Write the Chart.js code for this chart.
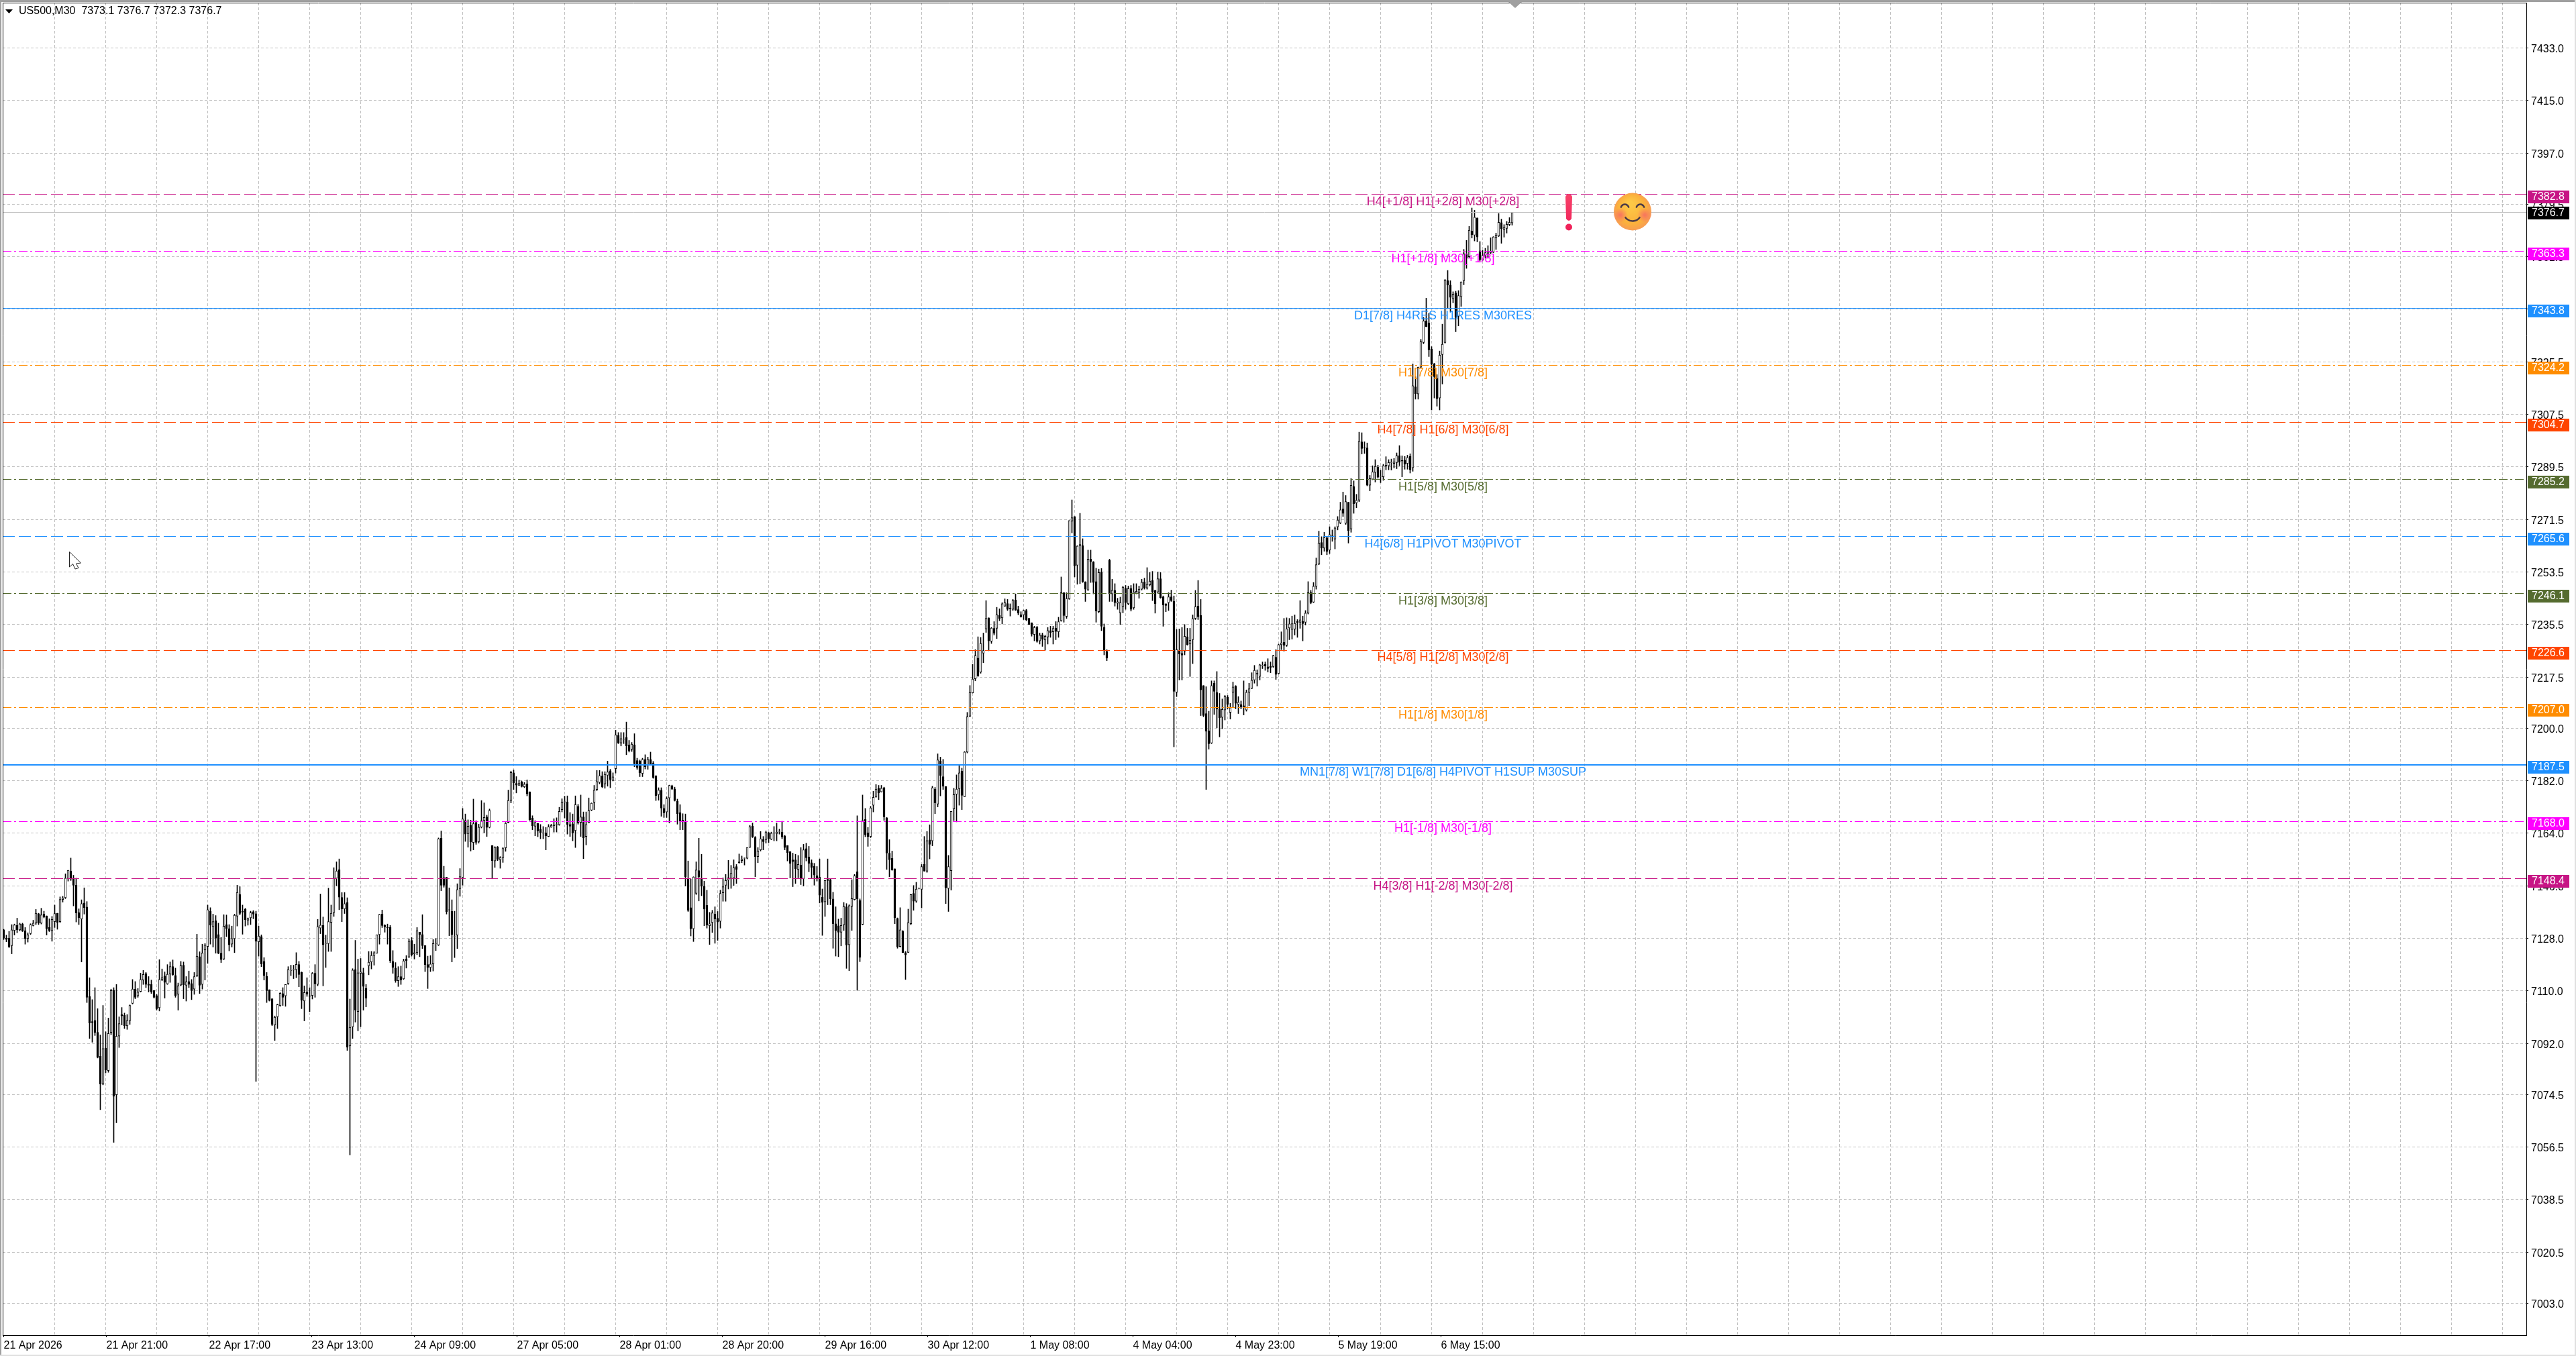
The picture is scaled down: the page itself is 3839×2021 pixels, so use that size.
<!DOCTYPE html>
<html lang="en">
<head>
<meta charset="UTF-8" />
<title>US500,M30</title>
<script src="https://cdn.jsdelivr.net/npm/chart.js"></script>
<style>
  html, body { margin: 0; padding: 0; background: #fff; overflow: hidden; }
  canvas { display: block; }
</style>
</head>
<body>
<canvas id="chart" width="3839" height="2021"></canvas>
<script>
const opens = [
7130.9,7128.1,7128.1,7125.5,7130.7,7132.4,7130.9,7132.9,7130.6,7127.9,
7129.6,7132.4,7133.2,7136.4,7133.2,7136.3,7135.7,7131.7,7130.6,7133.7,
7136.6,7133.7,7141.3,7141.9,7148.4,7151.1,7148.6,7146.2,7136.8,7134.6,
7140.1,7138.7,7108.1,7099.5,7099.9,7095.8,7087.6,7078.1,7090.4,7082.7,
7095.8,7110.2,7074.4,7094.5,7101.9,7101.6,7098.0,7099.8,7105.7,7110.6,
7108.3,7109.8,7113.7,7115.9,7112.3,7112.2,7110.1,7108.4,7104.2,7113.9,
7115.1,7112.4,7115.7,7118.3,7115.3,7108.8,7112.0,7118.8,7111.9,7113.2,
7112.5,7110.6,7115.1,7121.7,7112.2,7124.0,7125.2,7137.3,7132.0,7134.0,
7129.3,7122.9,7120.9,7132.7,7131.3,7126.0,7127.9,7135.6,7143.0,7137.3,
7138.0,7134.2,7135.0,7137.1,7136.4,7126.8,7128.6,7120.1,7115.0,7110.4,
7107.3,7098.3,7101.1,7104.9,7109.1,7108.3,7112.5,7116.9,7117.1,7117.3,
7119.0,7116.3,7106.5,7109.6,7108.3,7108.4,7116.0,7112.2,7131.5,7132.4,
7126.2,7126.2,7133.5,7136.8,7148.6,7151.5,7142.0,7138.1,7140.3,7091.1,
7097.7,7117.3,7102.9,7116.0,7116.2,7110.8,7118.6,7119.9,7122.1,7122.9,
7129.3,7136.3,7132.4,7131.8,7131.7,7120.1,7117.8,7113.5,7114.9,7114.1,
7120.9,7121.6,7127.3,7122.7,7123.1,7130.1,7129.3,7125.5,7119.0,7118.0,
7119.2,7126.2,7125.7,7162.3,7148.8,7148.9,7137.8,7137.3,7128.5,7129.1,
7145.0,7148.8,7168.4,7163.9,7166.7,7160.8,7167.7,7161.1,7166.1,7168.4,
7169.6,7166.0,7159.8,7154.5,7159.3,7154.9,7155.6,7159.0,7167.7,7175.3,
7184.7,7181.1,7180.4,7181.6,7179.9,7180.9,7178.2,7169.2,7166.4,7167.4,
7165.4,7164.0,7164.1,7162.9,7166.1,7166.6,7166.8,7166.9,7172.1,7174.7,
7174.7,7167.0,7167.2,7164.9,7173.2,7167.7,7169.6,7162.9,7167.6,7171.9,
7174.6,7179.0,7181.4,7183.6,7180.9,7183.9,7185.4,7182.1,7186.1,7197.5,
7194.9,7196.1,7196.8,7194.3,7192.8,7194.3,7188.9,7188.8,7184.5,7189.3,
7187.4,7189.3,7188.0,7183.7,7177.2,7178.7,7172.5,7171.3,7176.1,7180.3,
7179.2,7175.0,7171.0,7168.5,7168.0,7148.3,7138.5,7131.3,7143.4,7151.2,
7148.3,7145.8,7139.3,7132.3,7133.4,7136.3,7134.9,7133.8,7143.6,7146.2,
7148.0,7148.5,7148.7,7152.6,7154.2,7154.6,7155.4,7155.4,7159.2,7166.5,
7162.5,7156.0,7158.3,7161.8,7161.8,7164.1,7162.0,7164.0,7163.9,7164.6,
7164.4,7163.1,7159.8,7157.7,7154.9,7154.9,7151.6,7153.1,7148.5,7158.7,
7155.9,7153.9,7152.7,7149.5,7149.0,7142.1,7140.5,7148.2,7148.1,7141.5,
7133.0,7132.3,7130.1,7132.6,7138.8,7125.8,7139.0,7141.3,7150.8,7140.9,
7132.8,7168.7,7164.1,7162.9,7173.6,7176.5,7179.4,7178.2,7179.6,7169.3,
7157.2,7155.4,7151.8,7134.8,7125.2,7130.4,7123.1,7123.2,7133.0,7143.4,
7140.7,7145.0,7144.8,7153.4,7151.0,7161.7,7161.4,7179.1,7174.0,7188.8,
7183.4,7180.0,7145.1,7151.2,7172.3,7177.4,7179.3,7185.3,7176.5,7191.8,
7204.1,7212.1,7216.9,7224.0,7219.2,7225.7,7234.0,7237.8,7229.8,7234.2,
7234.2,7238.6,7237.8,7241.8,7242.7,7241.2,7240.7,7243.9,7240.6,7238.9,
7238.8,7240.3,7237.6,7236.1,7232.1,7234.5,7229.9,7232.0,7230.2,7231.2,
7233.4,7233.0,7234.3,7233.0,7236.8,7246.4,7238.3,7244.3,7270.9,7272.5,
7255.8,7262.5,7262.5,7250.1,7247.3,7257.9,7256.9,7250.2,7239.9,7253.5,
7234.5,7226.3,7257.5,7246.0,7247.2,7242.8,7239.5,7241.7,7247.9,7242.6,
7247.8,7241.2,7246.3,7246.4,7247.6,7250.1,7248.0,7249.1,7250.6,7247.2,
7246.6,7251.2,7245.0,7242.6,7243.0,7245.0,7243.5,7212.3,7226.6,7225.6,
7226.4,7231.3,7228.8,7230.3,7237.6,7241.8,7238.6,7214.6,7205.0,7199.1,
7194.9,7215.4,7212.2,7206.6,7203.7,7206.2,7210.6,7205.4,7212.3,7214.4,
7208.1,7208.1,7207.7,7206.2,7212.3,7213.6,7216.5,7218.8,7217.7,7221.5,
7221.9,7221.0,7221.1,7221.1,7224.3,7218.7,7228.6,7229.4,7228.4,7234.3,
7233.8,7233.9,7236.6,7236.3,7236.6,7236.3,7239.4,7246.4,7243.2,7248.6,
7256.2,7263.6,7261.7,7265.2,7261.0,7265.9,7264.8,7269.0,7270.3,7275.1,
7270.2,7277.4,7268.2,7282.8,7277.2,7278.1,7298.1,7296.2,7296.0,7283.2,
7285.3,7287.6,7289.4,7286.2,7286.1,7290.1,7289.9,7291.0,7290.7,7291.0,
7293.3,7291.7,7291.8,7290.7,7293.1,7289.2,7316.9,7314.5,7323.7,7332.1,
7339.5,7338.8,7329.9,7324.8,7319.8,7313.1,7328.0,7332.1,7353.3,7351.8,
7347.1,7349.1,7341.1,7347.8,7353.3,7362.5,7361.5,7370.3,7368.9,7374.8,
7363.5,7360.4,7362.0,7362.7,7362.9,7363.1,7367.9,7368.6,7373.2,7370.9,
7371.2,7372.5,7373.1];
const highs = [
7131.1,7129.1,7130.4,7132.7,7132.9,7134.9,7133.2,7133.2,7131.7,7129.9,
7133.0,7134.2,7137.9,7136.6,7138.3,7137.3,7135.7,7134.7,7135.5,7139.4,
7136.6,7142.2,7142.4,7150.1,7151.3,7155.5,7149.6,7148.6,7138.1,7141.2,
7145.3,7140.6,7114.5,7107.0,7111.1,7103.9,7094.9,7105.0,7096.0,7100.7,
7110.6,7111.1,7112.2,7101.1,7104.3,7102.4,7101.9,7105.2,7113.9,7113.2,
7110.8,7116.1,7117.0,7116.3,7114.9,7113.7,7110.1,7108.8,7120.7,7117.5,
7116.5,7119.0,7119.9,7120.6,7117.8,7112.7,7120.1,7119.9,7114.9,7116.8,
7113.9,7116.3,7129.4,7123.4,7126.0,7126.2,7139.4,7138.5,7136.3,7135.8,
7133.2,7128.3,7136.1,7136.0,7132.7,7132.2,7136.3,7146.2,7145.7,7139.4,
7138.3,7135.0,7137.3,7137.5,7137.3,7132.2,7129.2,7121.4,7116.3,7110.4,
7107.3,7101.4,7105.5,7109.4,7111.1,7112.2,7118.3,7118.8,7118.8,7123.1,
7120.1,7116.5,7111.7,7114.5,7111.1,7116.3,7119.0,7134.5,7143.2,7135.3,
7129.1,7145.2,7139.4,7152.2,7154.2,7155.2,7143.7,7143.7,7141.9,7107.2,
7117.6,7127.3,7120.9,7121.1,7117.8,7112.2,7123.5,7123.5,7123.5,7129.2,
7136.3,7137.7,7132.7,7132.9,7132.4,7123.8,7119.7,7118.3,7118.5,7120.9,
7122.1,7127.8,7128.3,7126.0,7131.7,7130.1,7136.1,7125.5,7121.9,7122.1,
7127.6,7127.9,7162.4,7164.8,7152.7,7148.9,7145.3,7141.2,7137.3,7146.7,
7151.9,7172.5,7170.6,7168.6,7168.5,7175.7,7168.3,7167.1,7175.2,7174.4,
7170.2,7172.3,7159.8,7159.4,7159.5,7156.0,7159.1,7167.7,7178.8,7185.3,
7185.7,7183.4,7182.2,7181.9,7181.4,7182.3,7178.2,7170.0,7168.3,7167.4,
7167.0,7166.3,7166.0,7167.0,7167.1,7169.0,7169.3,7172.9,7175.8,7176.7,
7176.8,7171.1,7170.6,7176.8,7173.9,7177.1,7171.3,7171.3,7176.1,7174.4,
7180.4,7185.5,7185.5,7185.1,7185.1,7188.7,7185.9,7184.7,7199.3,7198.5,
7198.5,7198.5,7202.1,7195.8,7195.1,7198.1,7189.7,7189.1,7189.7,7190.9,
7190.1,7191.8,7188.6,7183.7,7179.6,7179.6,7173.8,7176.5,7180.5,7180.5,
7179.8,7175.7,7173.8,7170.7,7170.6,7154.5,7148.3,7149.1,7154.2,7162.3,
7156.8,7147.6,7144.5,7136.9,7137.6,7138.8,7137.2,7144.5,7148.7,7149.9,
7154.7,7153.0,7154.9,7153.3,7156.9,7156.2,7155.6,7159.1,7166.7,7167.5,
7162.9,7159.1,7164.6,7162.9,7164.8,7164.4,7164.4,7166.3,7167.5,7165.4,
7168.1,7163.3,7159.8,7157.7,7157.2,7156.8,7156.4,7159.1,7160.2,7160.6,
7159.5,7154.9,7153.7,7152.6,7155.2,7144.9,7147.8,7155.2,7148.3,7143.8,
7138.8,7134.6,7134.9,7140.3,7139.9,7139.5,7148.1,7149.9,7170.0,7141.5,
7177.1,7172.5,7166.0,7173.2,7178.4,7180.7,7180.4,7180.4,7179.8,7169.4,
7161.8,7157.9,7151.8,7135.0,7138.5,7130.7,7123.5,7138.0,7143.1,7146.1,
7147.2,7145.3,7153.3,7162.9,7164.6,7166.9,7180.1,7179.7,7191.2,7190.1,
7189.3,7180.0,7156.4,7171.5,7179.4,7184.0,7187.4,7186.3,7192.0,7205.4,
7214.6,7221.9,7226.9,7231.3,7231.1,7232.6,7243.7,7237.8,7234.5,7236.5,
7241.4,7240.9,7243.0,7244.3,7244.1,7242.6,7244.1,7246.0,7241.8,7239.9,
7240.5,7240.7,7237.6,7236.1,7234.9,7234.9,7232.6,7232.6,7231.9,7234.5,
7234.9,7234.9,7236.5,7238.0,7251.8,7246.4,7246.4,7271.1,7278.2,7272.5,
7262.5,7273.6,7264.9,7250.2,7261.0,7261.0,7257.1,7254.8,7254.5,7254.7,
7235.7,7226.9,7257.9,7251.0,7249.5,7244.5,7244.9,7248.6,7248.9,7248.7,
7248.9,7249.5,7249.5,7248.7,7251.0,7251.4,7255.0,7253.3,7253.7,7247.3,
7253.5,7253.3,7245.3,7242.6,7246.4,7247.3,7245.3,7233.8,7234.0,7234.5,
7235.5,7234.2,7234.2,7238.8,7247.2,7250.6,7244.1,7214.6,7214.2,7205.8,
7216.2,7216.2,7219.4,7211.9,7210.0,7211.2,7211.2,7208.5,7215.8,7214.6,
7210.8,7209.3,7216.2,7213.1,7215.4,7219.0,7221.5,7220.0,7221.9,7222.7,
7222.7,7223.8,7222.7,7225.0,7226.9,7228.8,7233.0,7237.6,7237.8,7237.6,
7238.4,7238.8,7237.2,7243.7,7238.4,7240.3,7250.2,7247.2,7249.9,7258.3,
7267.5,7265.6,7267.1,7265.6,7269.0,7267.9,7269.0,7272.5,7277.4,7280.9,
7279.7,7277.4,7285.5,7284.7,7280.1,7301.4,7301.2,7298.1,7297.7,7286.6,
7289.9,7292.0,7290.1,7288.4,7290.4,7293.0,7292.0,7292.2,7292.4,7294.3,
7296.8,7293.3,7293.1,7293.5,7294.0,7324.8,7320.4,7323.7,7333.2,7340.7,
7347.3,7342.1,7330.7,7325.0,7321.1,7329.2,7338.4,7353.7,7356.8,7353.3,
7349.5,7349.7,7349.9,7352.9,7364.0,7367.1,7371.9,7378.2,7377.4,7374.8,
7366.7,7363.7,7364.4,7365.3,7368.0,7368.4,7369.6,7376.3,7374.4,7372.5,
7373.6,7374.9,7376.7];
const lows = [
7127.6,7126.8,7124.8,7122.7,7129.1,7129.9,7130.5,7130.3,7126.0,7126.7,
7129.3,7132.2,7132.7,7132.7,7132.9,7135.0,7129.1,7130.3,7127.0,7131.7,
7131.1,7133.4,7140.4,7141.6,7147.6,7147.8,7139.1,7133.6,7132.7,7119.9,
7136.3,7106.0,7093.7,7092.4,7094.7,7087.0,7069.3,7077.8,7081.9,7082.1,
7095.0,7058.1,7064.8,7090.6,7098.3,7097.1,7096.8,7098.5,7105.5,7107.3,
7107.8,7109.6,7112.2,7111.1,7109.6,7109.1,7107.5,7103.4,7103.1,7113.5,
7107.5,7112.2,7112.9,7115.3,7107.8,7103.4,7111.7,7107.3,7106.5,7111.1,
7107.0,7108.8,7114.9,7109.1,7110.6,7113.7,7119.4,7126.0,7125.0,7122.9,
7122.7,7119.7,7120.7,7128.6,7123.7,7125.0,7123.1,7132.2,7136.0,7129.4,
7132.2,7132.5,7132.7,7134.7,7079.0,7121.9,7118.3,7113.7,7106.0,7106.5,
7098.1,7093.0,7097.1,7104.7,7105.0,7104.7,7112.2,7115.2,7114.2,7114.5,
7111.4,7103.9,7099.7,7108.1,7102.9,7107.2,7107.8,7111.7,7129.6,7111.7,
7118.0,7123.5,7123.5,7135.5,7146.0,7137.8,7133.7,7136.5,7089.6,7053.8,
7093.7,7099.3,7096.3,7097.7,7103.4,7104.5,7115.5,7117.5,7118.8,7122.9,
7126.0,7131.7,7130.1,7126.0,7119.7,7116.0,7112.9,7111.5,7112.2,7113.9,
7117.8,7121.4,7121.9,7120.9,7122.4,7121.7,7124.5,7116.6,7110.8,7116.6,
7116.8,7123.8,7125.5,7144.3,7145.5,7136.3,7128.9,7119.9,7121.4,7124.5,
7142.4,7146.2,7161.2,7159.2,7157.9,7158.3,7160.2,7160.6,7165.8,7164.1,
7162.9,7165.8,7148.4,7152.3,7154.6,7152.0,7154.0,7157.8,7167.5,7174.4,
7179.0,7177.8,7180.4,7179.8,7179.6,7176.8,7168.4,7165.2,7163.1,7162.8,
7162.1,7162.1,7158.3,7162.8,7166.0,7164.4,7164.4,7166.7,7171.3,7169.2,
7163.7,7162.9,7161.4,7159.1,7167.1,7162.9,7155.3,7160.0,7167.5,7171.7,
7172.1,7178.6,7180.9,7179.6,7179.4,7180.1,7179.6,7181.9,7184.6,7194.7,
7193.9,7194.7,7190.9,7191.8,7192.0,7186.8,7185.9,7183.4,7183.4,7186.0,
7185.9,7187.4,7182.8,7175.2,7175.3,7169.8,7169.4,7169.4,7167.5,7179.0,
7175.0,7167.1,7165.2,7165.2,7145.9,7137.2,7128.8,7126.9,7143.0,7140.8,
7142.6,7132.3,7131.5,7125.9,7130.0,7126.3,7127.3,7131.5,7140.7,7140.7,
7144.9,7145.1,7146.1,7146.8,7153.7,7153.9,7153.1,7155.2,7159.1,7162.5,
7149.1,7153.9,7157.9,7158.3,7160.6,7160.8,7161.8,7161.4,7161.4,7163.7,
7162.1,7158.3,7154.5,7148.7,7145.7,7146.8,7148.7,7146.4,7145.9,7154.5,
7150.8,7148.7,7146.2,7147.6,7140.1,7129.0,7135.5,7139.5,7139.5,7124.6,
7121.9,7121.7,7125.4,7130.7,7117.7,7116.9,7130.7,7141.1,7110.2,7120.0,
7132.6,7162.8,7159.5,7162.5,7171.3,7176.3,7175.5,7178.1,7168.4,7151.6,
7149.1,7151.3,7133.0,7124.6,7125.0,7123.1,7113.9,7123.1,7132.6,7137.6,
7140.3,7144.9,7138.4,7151.0,7150.6,7155.2,7159.7,7170.7,7173.0,7176.8,
7179.0,7139.9,7137.2,7144.5,7168.3,7167.9,7173.6,7172.1,7176.5,7191.5,
7203.9,7212.0,7216.2,7217.7,7218.8,7222.4,7232.8,7226.5,7229.0,7231.9,
7230.7,7236.8,7235.7,7241.7,7240.3,7238.4,7240.3,7240.3,7238.8,7238.0,
7237.2,7236.8,7235.5,7231.5,7229.9,7229.4,7228.8,7228.0,7226.7,7228.8,
7231.1,7228.8,7230.3,7231.1,7236.6,7236.3,7237.6,7244.1,7266.9,7251.8,
7249.3,7249.5,7249.9,7243.4,7247.2,7249.9,7246.0,7236.3,7239.5,7233.4,
7225.1,7223.1,7243.4,7243.4,7241.8,7240.7,7235.5,7239.5,7240.7,7242.2,
7240.1,7240.7,7246.0,7244.5,7247.3,7247.6,7247.6,7248.7,7243.7,7239.4,
7246.4,7244.5,7234.9,7239.9,7240.3,7243.4,7193.6,7210.8,7216.5,7216.5,
7225.1,7228.4,7217.7,7222.1,7237.2,7237.2,7204.3,7203.9,7179.0,7192.8,
7194.7,7204.7,7200.1,7197.0,7199.8,7202.8,7206.6,7203.1,7207.0,7206.6,
7205.0,7206.6,7204.5,7205.8,7207.7,7213.5,7215.4,7214.4,7216.5,7220.4,
7219.8,7219.2,7219.0,7220.8,7216.7,7218.5,7226.9,7226.4,7228.0,7230.3,
7230.5,7231.9,7231.1,7234.2,7229.9,7235.3,7239.1,7242.6,7243.0,7247.6,
7256.0,7259.4,7260.6,7259.4,7259.8,7264.0,7261.4,7267.9,7270.0,7272.5,
7269.8,7263.4,7267.1,7273.6,7275.5,7277.6,7293.9,7294.1,7283.0,7281.3,
7285.1,7284.3,7285.6,7284.1,7284.9,7288.5,7288.5,7288.4,7289.1,7288.9,
7289.9,7286.1,7288.7,7288.7,7287.4,7288.0,7312.7,7312.7,7323.4,7331.7,
7337.5,7327.3,7309.0,7313.1,7310.3,7309.0,7317.9,7331.9,7343.7,7342.7,
7345.7,7335.8,7337.8,7344.5,7351.9,7357.5,7361.2,7367.9,7366.9,7366.6,
7360.0,7360.2,7361.0,7361.0,7362.5,7362.9,7364.0,7368.4,7366.1,7368.2,
7369.6,7372.1,7372.3];
const closes = [
7128.1,7127.6,7125.2,7130.9,7132.6,7130.9,7132.9,7130.5,7127.9,7129.2,
7132.7,7133.2,7136.6,7133.2,7136.0,7135.3,7131.3,7130.6,7134.5,7136.5,
7133.5,7141.3,7141.8,7148.6,7151.3,7148.3,7146.2,7136.7,7135.0,7139.9,
7138.5,7107.8,7099.0,7099.1,7095.8,7087.3,7078.1,7090.2,7082.9,7095.4,
7110.1,7073.9,7094.5,7098.8,7101.4,7098.1,7099.8,7105.0,7110.6,7107.8,
7109.6,7113.9,7115.6,7112.2,7111.9,7109.6,7107.8,7103.9,7113.9,7114.5,
7112.9,7115.7,7118.3,7115.5,7108.4,7111.7,7118.6,7112.1,7113.1,7112.2,
7110.1,7114.9,7121.9,7111.9,7123.0,7125.7,7137.8,7132.5,7133.7,7128.1,
7122.9,7120.7,7132.2,7131.3,7125.8,7127.9,7135.9,7143.7,7136.5,7137.0,
7134.4,7134.7,7136.8,7136.3,7127.0,7128.8,7119.2,7115.2,7110.1,7106.7,
7098.5,7101.0,7105.3,7109.2,7107.8,7112.2,7117.3,7117.0,7117.3,7119.1,
7115.6,7106.8,7109.4,7108.8,7108.2,7116.0,7112.4,7132.0,7132.5,7125.8,
7126.3,7133.7,7136.6,7148.6,7151.1,7142.1,7138.1,7139.9,7090.7,7097.5,
7117.1,7103.4,7116.2,7116.5,7111.5,7107.5,7119.8,7122.1,7123.1,7129.2,
7136.2,7132.4,7131.9,7131.6,7120.4,7118.0,7113.5,7114.9,7113.7,7120.3,
7120.4,7127.0,7122.4,7123.1,7130.6,7129.3,7125.5,7119.0,7118.0,7119.2,
7126.2,7126.3,7162.1,7146.2,7146.2,7137.1,7137.7,7129.3,7128.6,7144.7,
7149.1,7168.9,7163.7,7166.4,7161.0,7167.3,7160.9,7166.1,7168.3,7169.4,
7166.0,7171.8,7154.6,7159.2,7155.0,7155.7,7158.8,7167.4,7175.2,7184.8,
7181.3,7180.5,7181.1,7180.0,7180.8,7177.5,7168.6,7166.5,7167.7,7164.8,
7164.2,7164.2,7163.1,7166.2,7166.7,7166.9,7167.0,7171.5,7174.7,7174.8,
7167.0,7166.4,7164.1,7173.8,7167.5,7169.6,7162.4,7167.0,7171.7,7174.3,
7178.8,7181.7,7183.7,7179.9,7184.2,7185.0,7182.4,7183.3,7197.7,7194.9,
7196.4,7196.2,7193.9,7192.2,7194.5,7187.8,7186.5,7184.7,7189.3,7186.8,
7189.3,7187.6,7183.1,7176.9,7178.8,7172.6,7171.0,7175.9,7180.4,7179.1,
7175.2,7170.7,7168.1,7167.9,7149.1,7137.6,7131.3,7149.0,7151.4,7149.1,
7145.9,7138.0,7132.5,7133.0,7136.7,7134.6,7133.6,7143.4,7145.7,7147.8,
7148.7,7150.3,7152.2,7151.6,7153.9,7155.1,7155.5,7159.1,7166.2,7162.8,
7156.0,7157.9,7162.1,7161.1,7164.3,7162.1,7164.0,7164.1,7164.4,7164.7,
7162.7,7159.1,7157.4,7153.7,7154.3,7151.8,7153.3,7148.5,7158.3,7155.6,
7153.7,7152.3,7149.7,7148.5,7142.8,7140.3,7147.8,7147.8,7141.5,7133.0,
7130.7,7130.1,7132.4,7138.9,7125.7,7139.2,7141.6,7149.4,7141.5,7121.5,
7168.4,7163.5,7162.9,7172.7,7176.3,7179.1,7177.8,7179.4,7169.6,7157.2,
7154.9,7151.4,7135.0,7125.1,7130.9,7123.1,7122.3,7133.4,7143.0,7140.7,
7144.9,7145.1,7152.6,7151.0,7161.5,7160.2,7179.6,7174.4,7189.1,7183.8,
7180.1,7145.3,7152.6,7171.5,7177.2,7179.1,7184.7,7177.0,7191.8,7203.9,
7212.2,7216.8,7224.8,7217.9,7229.0,7226.6,7237.6,7229.9,7234.3,7232.5,
7238.8,7237.6,7242.6,7243.0,7240.7,7240.9,7243.7,7240.4,7239.4,7238.1,
7240.3,7237.1,7235.5,7232.2,7234.5,7229.7,7231.9,7230.5,7231.5,7233.4,
7232.8,7234.2,7233.1,7236.5,7246.4,7238.6,7244.4,7271.1,7272.1,7255.6,
7262.4,7262.9,7250.1,7247.6,7257.9,7257.0,7249.9,7240.1,7253.3,7234.9,
7226.5,7224.0,7246.0,7247.3,7243.0,7243.3,7243.0,7248.3,7243.0,7247.8,
7240.7,7246.6,7246.9,7247.6,7250.0,7248.0,7249.3,7250.4,7246.6,7242.6,
7251.2,7244.7,7242.2,7242.0,7245.0,7243.7,7212.6,7226.9,7225.4,7225.0,
7231.5,7228.6,7230.1,7237.5,7241.6,7238.2,7213.1,7204.3,7198.9,7194.7,
7214.6,7212.6,7206.5,7203.5,7206.4,7210.8,7208.1,7207.0,7214.1,7208.5,
7208.9,7207.2,7207.0,7212.3,7213.5,7216.4,7219.8,7218.5,7221.7,7221.6,
7221.3,7220.4,7220.8,7224.8,7218.4,7228.6,7229.2,7228.4,7234.0,7235.7,
7235.8,7235.9,7236.2,7237.1,7235.8,7239.4,7246.4,7243.0,7248.6,7256.0,
7263.4,7261.7,7265.3,7260.6,7266.3,7265.6,7268.6,7271.3,7274.8,7273.6,
7277.6,7267.7,7283.2,7276.9,7278.1,7298.3,7295.8,7296.1,7283.2,7285.5,
7287.8,7289.7,7286.0,7286.3,7289.9,7289.7,7291.0,7291.1,7291.2,7293.3,
7291.1,7291.5,7290.4,7292.7,7288.5,7317.3,7314.6,7323.7,7332.4,7339.5,
7337.6,7329.6,7324.7,7320.4,7312.9,7327.8,7331.5,7353.5,7351.8,7347.6,
7348.7,7340.7,7348.2,7352.9,7362.5,7361.0,7370.6,7369.0,7375.0,7368.3,
7360.6,7362.0,7362.9,7363.3,7363.3,7368.3,7368.9,7373.3,7371.1,7371.5,
7372.6,7373.3,7376.7];

const priceTicks = [7433.0,7415.0,7397.0,7379.5,7361.5,7343.5,7325.5,7307.5,7289.5,7271.5,7253.5,7235.5,7217.5,7200.0,7182.0,7164.0,7146.0,7128.0,7110.0,7092.0,7074.5,7056.5,7038.5,7020.5,7003.0];
const timeTickBars = [0,38.25,76.5,114.75,153,191.25,229.5,267.75,306,344.25,382.5,420.75,459,497.25,535.5];
const timeTickLabels = ['21 Apr 2026','21 Apr 21:00','22 Apr 17:00','23 Apr 13:00','24 Apr 09:00','27 Apr 05:00','28 Apr 01:00','28 Apr 20:00','29 Apr 16:00','30 Apr 12:00','1 May 08:00','4 May 04:00','4 May 23:00','5 May 19:00','6 May 15:00'];

const levelValues = [7382.8,7363.3,7343.8,7324.2,7304.7,7285.2,7265.6,7246.1,7226.6,7207.0,7187.5,7168.0,7148.4];
const levelLabels = ['H4[+1/8] H1[+2/8] M30[+2/8]','H1[+1/8] M30[+1/8]','D1[7/8] H4RES H1RES M30RES','H1[7/8] M30[7/8]','H4[7/8] H1[6/8] M30[6/8]','H1[5/8] M30[5/8]','H4[6/8] H1PIVOT M30PIVOT','H1[3/8] M30[3/8]','H4[5/8] H1[2/8] M30[2/8]','H1[1/8] M30[1/8]','MN1[7/8] W1[7/8] D1[6/8] H4PIVOT H1SUP M30SUP','H1[-1/8] M30[-1/8]','H4[3/8] H1[-2/8] M30[-2/8]'];
const levelColors = ['#C71585','#FF00FF','#1E90FF','#FF8C00','#FF4500','#556B2F','#1E90FF','#556B2F','#FF4500','#FF8C00','#1E90FF','#FF00FF','#C71585'];
const levelStyles = ['dash','dashdot','solid','dashdot','dash','dashdot','dash','dashdot','dash','dashdot','thick','dashdot','dash'];
const lastPrice = 7376.7;
const headerText = 'US500,M30  7373.1 7376.7 7372.3 7376.7';

const X_MIN = -0.375, X_MAX = 939.875;
const Y_MIN = 6992.04, Y_MAX = 7448.53;
const LABEL_BAR = 536.25;
const FONT = '"Liberation Sans", Arial, sans-serif';

const dashes = { dash: [18, 6], dashdot: [13, 4, 3, 4], solid: [], thick: [] };

function levelDataset(value, color, style) {
  return {
    type: 'line',
    data: [{ x: X_MIN, y: value }, { x: X_MAX, y: value }],
    borderColor: color,
    borderWidth: style === 'thick' ? 2 : 1,
    borderDash: dashes[style],
    pointRadius: 0,
    order: 0
  };
}

// text and small icons that chart.js has no element for
const overlay = {
  id: 'overlay',
  // level lines land between pixel rows, snap them so they stay one pixel thick
  beforeDatasetDraw(chart, args) {
    if (args.meta.type !== 'line') return;
    const { ctx, scales } = chart;
    const p = scales.y.getPixelForValue(args.meta._dataset.data[0].y);
    const snapped = args.meta._dataset.borderWidth === 2 ? Math.round(p) : Math.floor(p) + 0.5;
    ctx.save();
    ctx.translate(0, snapped - p);
  },
  afterDatasetDraw(chart, args) {
    if (args.meta.type === 'line') chart.ctx.restore();
  },
  afterDatasetsDraw(chart) {
    const { ctx, scales } = chart;
    ctx.save();
    ctx.font = '18px ' + FONT;
    ctx.textAlign = 'center';
    ctx.textBaseline = 'middle';
    levelValues.forEach((v, i) => {
      ctx.fillStyle = levelColors[i];
      ctx.fillText(levelLabels[i], scales.x.getPixelForValue(LABEL_BAR), scales.y.getPixelForValue(v) + 11);
    });
    drawAlert(ctx, 2338, 288);
    drawSmiley(ctx, 2433, 315.5);
    ctx.restore();
  },
  afterDraw(chart) {
    const { ctx, chartArea: a, scales } = chart;
    ctx.save();
    // frame
    ctx.strokeStyle = '#000';
    ctx.lineWidth = 1;
    ctx.beginPath();
    ctx.moveTo(a.left + 0.5, a.bottom);
    ctx.lineTo(a.left + 0.5, a.top + 0.5);
    ctx.lineTo(a.right, a.top + 0.5);
    ctx.stroke();
    ctx.fillStyle = '#a0a0a0';
    ctx.fillRect(0, 0, 3839, 3);
    ctx.fillRect(0, 0, 2, 2021);
    ctx.fillStyle = '#e0e0e0';
    ctx.fillRect(3837, 0, 2, 2021);
    ctx.fillRect(0, 2019, 3839, 2);

    // price tags on the axis
    ctx.font = '16px ' + FONT;
    ctx.textBaseline = 'middle';
    ctx.textAlign = 'left';
    const tag = (v, color, off) => {
      const y = Math.round(scales.y.getPixelForValue(v) + off);
      ctx.fillStyle = color;
      ctx.fillRect(3767, y - 9, 62, 19);
      ctx.fillStyle = '#fff';
      ctx.fillText(v.toFixed(1), 3773, y + 1);
    };
    levelValues.forEach((v, i) => tag(v, levelColors[i], 3));
    tag(lastPrice, '#000', 0);

    // header
    ctx.fillStyle = '#000';
    ctx.beginPath();
    ctx.moveTo(8, 14);
    ctx.lineTo(19, 14);
    ctx.lineTo(13.5, 20);
    ctx.closePath();
    ctx.fill();
    ctx.fillText(headerText, 28, 17);

    // chart shift marker
    ctx.fillStyle = '#a0a0a0';
    ctx.beginPath();
    ctx.moveTo(2248, 3);
    ctx.lineTo(2268, 3);
    ctx.lineTo(2258, 12);
    ctx.closePath();
    ctx.fill();

    // mouse pointer
    ctx.fillStyle = '#fff';
    ctx.strokeStyle = '#222';
    ctx.lineWidth = 1;
    ctx.beginPath();
    [[103.5, 822.5], [103.5, 845], [108.5, 840.5], [112, 848], [117, 846.5], [113.5, 840], [120.5, 839]].forEach((p, i) => {
      if (i) ctx.lineTo(p[0], p[1]); else ctx.moveTo(p[0], p[1]);
    });
    ctx.closePath();
    ctx.fill();
    ctx.stroke();
    ctx.restore();
  }
};

function drawAlert(ctx, x, top) {
  const g = ctx.createLinearGradient(0, top, 0, top + 55);
  g.addColorStop(0, '#f8436a');
  g.addColorStop(1, '#ef1f58');
  ctx.fillStyle = g;
  ctx.beginPath();
  ctx.moveTo(x - 5, top + 5);
  ctx.quadraticCurveTo(x, top - 3, x + 5, top + 5);
  ctx.lineTo(x + 4, top + 38);
  ctx.quadraticCurveTo(x, top + 44, x - 4, top + 38);
  ctx.closePath();
  ctx.fill();
  ctx.beginPath();
  ctx.arc(x, top + 50.5, 5, 0, Math.PI * 2);
  ctx.fill();
}

function drawSmiley(ctx, x, y) {
  const g = ctx.createRadialGradient(x - 4, y - 12, 4, x, y, 29);
  g.addColorStop(0, '#fdc846');
  g.addColorStop(0.7, '#fbb13c');
  g.addColorStop(1, '#f79a55');
  ctx.fillStyle = g;
  ctx.beginPath();
  ctx.arc(x, y, 28, 0, Math.PI * 2);
  ctx.fill();
  // cheeks
  [-18, 18].forEach(dx => {
    const c = ctx.createRadialGradient(x + dx, y + 5, 1, x + dx, y + 5, 11);
    c.addColorStop(0, 'rgba(245,90,110,0.65)');
    c.addColorStop(1, 'rgba(245,90,110,0)');
    ctx.fillStyle = c;
    ctx.beginPath();
    ctx.arc(x + dx, y + 5, 11, 0, Math.PI * 2);
    ctx.fill();
  });
  ctx.strokeStyle = '#4b3a46';
  ctx.lineWidth = 2.5;
  ctx.lineCap = 'round';
  [-11.5, 11.5].forEach(dx => {
    ctx.beginPath();
    ctx.arc(x + dx, y - 5, 6, Math.PI * 1.1, Math.PI * 1.9);
    ctx.stroke();
  });
  ctx.beginPath();
  ctx.arc(x, y + 1, 13, Math.PI * 0.2, Math.PI * 0.8);
  ctx.stroke();
  ctx.lineCap = 'butt';
}

const bars = opens.map((o, i) => i);

// no label overhang, the plot area has to stay at fixed pixels
function noPadding(axis) {
  axis.paddingTop = 0;
  axis.paddingBottom = 0;
  axis.paddingLeft = 0;
  axis.paddingRight = 0;
}

new Chart(document.getElementById('chart'), {
  type: 'bar',
  data: {
    datasets: [
      ...levelValues.map((v, i) => levelDataset(v, levelColors[i], levelStyles[i])),
      {
        // bodies
        data: bars.map(i => ({ x: i, y: [opens[i], closes[i]] })),
        backgroundColor: bars.map(i => closes[i] >= opens[i] ? '#fff' : '#000'),
        borderColor: '#000',
        borderWidth: 1,
        borderSkipped: false,
        barThickness: 3,
        grouped: false,
        order: 1
      },
      {
        // wicks
        data: bars.map(i => ({ x: i, y: [lows[i], highs[i]] })),
        backgroundColor: '#000',
        borderWidth: 0,
        barThickness: 1,
        grouped: false,
        order: 2
      },
      levelDataset(lastPrice, '#c0c0c0', 'solid')
    ]
  },
  options: {
    responsive: false,
    animation: false,
    devicePixelRatio: 1,
    layout: { padding: { left: 4, top: 4 } },
    plugins: { legend: { display: false }, tooltip: { enabled: false } },
    events: [],
    scales: {
      x: {
        type: 'linear',
        min: X_MIN,
        max: X_MAX,
        offset: false,
        position: 'bottom',
        afterBuildTicks: axis => { axis.ticks = timeTickBars.map(v => ({ value: v })); },
        afterFit: axis => { axis.height = 31; noPadding(axis); },
        grid: { offset: false, drawOnChartArea: false, tickColor: '#000', tickLength: 3 },
        border: { color: '#000', width: 1 },
        ticks: {
          autoSkip: false,
          maxRotation: 0,
          align: 'start',
          padding: 3,
          color: '#000',
          font: { family: FONT, size: 16 },
          callback: (v, i) => timeTickLabels[i]
        }
      },
      xGrid: {
        type: 'linear',
        min: X_MIN,
        max: X_MAX,
        offset: false,
        position: 'bottom',
        afterBuildTicks: axis => {
          const t = [];
          for (let b = 19; b < X_MAX; b += 19) t.push({ value: b });
          axis.ticks = t;
        },
        afterFit: axis => { axis.height = 0; noPadding(axis); },
        grid: { offset: false, color: '#c0c0c0', drawTicks: false },
        border: { display: false, dash: [4, 3] },
        ticks: { display: false, autoSkip: false }
      },
      y: {
        type: 'linear',
        position: 'right',
        min: Y_MIN,
        max: Y_MAX,
        afterBuildTicks: axis => { axis.ticks = priceTicks.map(v => ({ value: v })); },
        afterFit: axis => { axis.width = 74; noPadding(axis); },
        grid: { color: '#c0c0c0', tickColor: '#000', tickLength: 3 },
        border: { color: '#000', width: 1, dash: [4, 3] },
        ticks: {
          autoSkip: false,
          padding: 4,
          labelOffset: 2,
          color: '#000',
          font: { family: FONT, size: 16 },
          callback: v => v.toFixed(1)
        }
      }
    }
  },
  plugins: [overlay]
});
</script>
</body>
</html>
